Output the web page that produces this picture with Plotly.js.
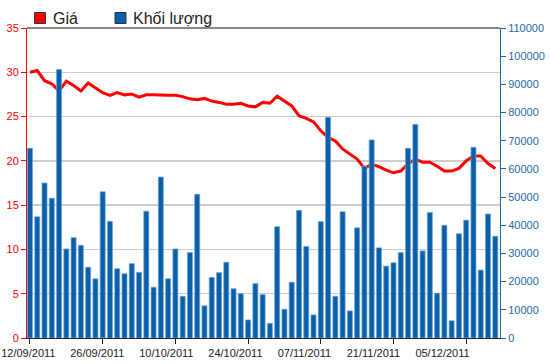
<!DOCTYPE html>
<html>
<head>
<meta charset="utf-8">
<script src="https://cdn.plot.ly/plotly-3.0.1.min.js"></script>
<style>html,body{margin:0;padding:0;background:#fff;}#chart{width:550px;height:364px;}</style>
</head>
<body>
<div id="chart"></div>
<script>
// Trading days (categories)
const dates = [
  "12/09/2011","13/09/2011","14/09/2011","15/09/2011","16/09/2011",
  "19/09/2011","20/09/2011","21/09/2011","22/09/2011","23/09/2011",
  "26/09/2011","27/09/2011","28/09/2011","29/09/2011","30/09/2011",
  "03/10/2011","04/10/2011","05/10/2011","06/10/2011","07/10/2011",
  "10/10/2011","11/10/2011","12/10/2011","13/10/2011","14/10/2011",
  "17/10/2011","18/10/2011","19/10/2011","20/10/2011","21/10/2011",
  "24/10/2011","25/10/2011","26/10/2011","27/10/2011","28/10/2011",
  "31/10/2011","01/11/2011","02/11/2011","03/11/2011","04/11/2011",
  "07/11/2011","08/11/2011","09/11/2011","10/11/2011","11/11/2011",
  "14/11/2011","15/11/2011","16/11/2011","17/11/2011","18/11/2011",
  "21/11/2011","22/11/2011","23/11/2011","24/11/2011","25/11/2011",
  "28/11/2011","29/11/2011","30/11/2011","01/12/2011","02/12/2011",
  "05/12/2011","06/12/2011","07/12/2011","08/12/2011","09/12/2011"
];

// Giá (price, left axis)
const price = [
  30.0, 30.2, 29.05, 28.7, 27.9, 29.0, 28.5, 27.9, 28.8, 28.2,
  27.7, 27.4, 27.7, 27.45, 27.55, 27.2, 27.45, 27.45, 27.4, 27.4,
  27.4, 27.25, 27.0, 26.9, 27.05, 26.75, 26.6, 26.4, 26.4, 26.5,
  26.2, 26.1, 26.6, 26.5, 27.3, 26.7, 26.2, 25.1, 24.8, 24.4,
  23.4, 22.65, 22.25, 21.35, 20.8, 20.2, 19.15, 19.6, 19.35, 18.95,
  18.65, 18.85, 19.65, 20.2, 19.85, 19.85, 19.4, 18.85, 18.85, 19.15,
  20.0, 20.55, 20.55, 19.7, 19.15
];

// Khối lượng (volume, right axis)
const volume = [
  67300, 43000, 55000, 49600, 95300, 31600, 35600, 32900, 25100, 21000,
  51900, 41400, 24600, 22800, 26400, 23300, 45000, 18000, 57100, 21000,
  31600, 14800, 30300, 51000, 11400, 21500, 23200, 26900, 17500, 15700,
  6400, 19300, 15400, 5200, 39500, 10200, 19800, 45300, 32500, 8200,
  41300, 78300, 14800, 44800, 9600, 39100, 61000, 70300, 32000, 25500,
  26700, 30300, 67300, 75800, 30900, 44500, 15900, 40000, 6100, 37000,
  41800, 67700, 24100, 44000, 36100
];

const tickIdx = [0, 10, 20, 30, 40, 50, 60];
const tickLabels = ["12/09/2011","26/09/2011","10/10/2011","24/10/2011","07/11/2011","21/11/2011","05/12/2011"];
const tickDates = tickIdx.map(i => dates[i]);
const legendNames = ["Giá", "Khối lượng"];

const RED = '#ff0000';
const BLUE = '#0a5fa8';
const AXBLUE = '#1f6aa5';
const FONT = 'Liberation Sans, Arial, sans-serif';

// pixel -> paper helpers for legend decoration (plot area: x 27..500, y 28..338)
const px = v => (v - 27) / 473;
const py = v => (338 - v) / 310;

const traces = [
  {
    type: 'scatter', mode: 'lines', x: dates, y: price, name: legendNames[0],
    xaxis: 'x', yaxis: 'y', showlegend: false,
    line: {color: RED, width: 3}
  },
  {
    type: 'bar', x: dates, y: volume, name: legendNames[1],
    xaxis: 'x', yaxis: 'y2', showlegend: false,
    marker: {color: BLUE, line: {color: '#6aa5dc', width: 0.7}}
  },
  {
    // carrier for the date label axis (no visible marks)
    type: 'scatter', mode: 'markers', x: tickIdx, y: tickIdx.map(() => null),
    xaxis: 'x2', yaxis: 'y', showlegend: false, hoverinfo: 'skip',
    marker: {opacity: 0}
  }
];

const layout = {
  width: 550, height: 364, autosize: false,
  margin: {l: 27, r: 50, t: 28, b: 26, pad: 0},
  paper_bgcolor: '#ffffff', plot_bgcolor: '#ffffff',
  font: {family: FONT, size: 11, color: '#222'},
  bargap: 0.31,
  showlegend: false,
  xaxis: {
    type: 'category', range: [-0.41, 64.65], fixedrange: true,
    showgrid: false, zeroline: false,
    showline: true, linecolor: '#222', linewidth: 1,
    ticks: 'outside', ticklen: 5, tickcolor: '#222', tickwidth: 1,
    tickmode: 'array', tickvals: tickDates, showticklabels: false
  },
  xaxis2: {
    overlaying: 'x', type: 'linear', range: [-0.188, 68.33], fixedrange: true,
    showgrid: false, zeroline: false, showline: false, ticks: '',
    tickmode: 'array', tickvals: tickIdx, ticktext: tickLabels,
    ticklabelstandoff: 7,
    tickfont: {family: FONT, size: 11, color: '#222'}, side: 'bottom'
  },
  yaxis: {
    range: [0, 35], dtick: 5, tick0: 0, fixedrange: true,
    showgrid: true, gridcolor: '#cccccc', gridwidth: 1.5,
    zeroline: false, showline: true, linecolor: RED, linewidth: 1,
    ticks: 'outside', ticklen: 5, tickcolor: RED,
    tickfont: {family: FONT, size: 11, color: RED}
  },
  yaxis2: {
    overlaying: 'y', side: 'right', range: [0, 110000], dtick: 10000, tick0: 0,
    fixedrange: true, tickformat: 'd',
    showgrid: false, zeroline: false, showline: true, linecolor: AXBLUE, linewidth: 1,
    ticks: 'outside', ticklen: 5, tickcolor: AXBLUE,
    tickfont: {family: FONT, size: 11, color: AXBLUE}
  },
  shapes: [
    {type: 'line', xref: 'paper', yref: 'paper', x0: 0, x1: 1, y0: 1, y1: 1,
     line: {color: '#111', width: 1}},
    {type: 'rect', xref: 'paper', yref: 'paper', x0: px(34.5), x1: px(45.5), y0: py(23.5), y1: py(12.5),
     fillcolor: RED, line: {color: '#333', width: 1}},
    {type: 'rect', xref: 'paper', yref: 'paper', x0: px(115), x1: px(126), y0: py(23.5), y1: py(12.5),
     fillcolor: BLUE, line: {color: '#333', width: 1}}
  ],
  annotations: [
    {xref: 'paper', yref: 'paper', x: px(51), y: py(19), xanchor: 'left', yanchor: 'middle',
     text: legendNames[0], showarrow: false, font: {family: FONT, size: 16, color: '#222'}},
    {xref: 'paper', yref: 'paper', x: px(131), y: py(19), xanchor: 'left', yanchor: 'middle',
     text: legendNames[1], showarrow: false, font: {family: FONT, size: 16, color: '#222'}}
  ]
};

Plotly.newPlot('chart', traces, layout, {displayModeBar: false, staticPlot: true});
</script>
</body>
</html>
